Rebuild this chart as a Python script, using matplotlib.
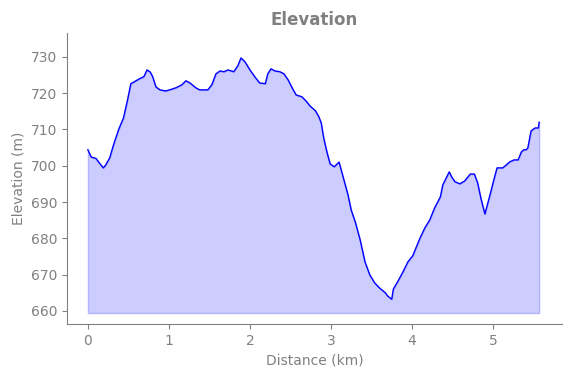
import matplotlib
matplotlib.use("Agg")
import matplotlib.pyplot as plt
import numpy as np

distance_km = [0.00, 0.04, 0.10, 0.14, 0.19, 0.22, 0.27, 0.32, 0.38, 0.44, 0.49, 0.53,
               0.57, 0.64, 0.69, 0.73, 0.77, 0.80, 0.84, 0.89, 0.96, 1.01, 1.09, 1.16,
               1.21, 1.26, 1.33, 1.38, 1.48, 1.53, 1.58, 1.63, 1.68, 1.73, 1.80, 1.85,
               1.89, 1.94, 2.00, 2.06, 2.12, 2.19, 2.22, 2.26, 2.31, 2.37, 2.42, 2.47,
               2.52, 2.57, 2.64, 2.69, 2.74, 2.81, 2.85, 2.88, 2.91, 2.95, 2.99, 3.04,
               3.10, 3.16, 3.21, 3.25, 3.30, 3.36, 3.42, 3.48, 3.54, 3.60, 3.67, 3.70,
               3.75, 3.77, 3.83, 3.89, 3.95, 4.01, 4.10, 4.16, 4.22, 4.28, 4.35, 4.38,
               4.46, 4.49, 4.53, 4.59, 4.65, 4.72, 4.77, 4.81, 4.85, 4.90, 4.96, 5.01,
               5.05, 5.09, 5.12, 5.21, 5.26, 5.31, 5.35, 5.38, 5.41, 5.43, 5.47, 5.52,
               5.56, 5.57]
elevation_m = [704.4, 702.4, 702.0, 700.8, 699.4, 700.2, 702.2, 706.0, 710.0, 713.2, 718.2, 722.6,
               723.1, 724.0, 724.5, 726.4, 725.8, 724.5, 721.7, 720.9, 720.6, 720.9, 721.5, 722.3,
               723.4, 722.8, 721.5, 720.9, 720.9, 722.3, 725.3, 726.1, 725.9, 726.4, 725.9, 727.5,
               729.7, 728.6, 726.4, 724.5, 722.8, 722.6, 725.3, 726.7, 726.1, 725.9, 725.3, 723.7,
               721.5, 719.5, 719.0, 717.9, 716.5, 715.1, 713.5, 711.8, 707.7, 703.8, 700.5, 699.7,
               701.0, 696.1, 692.0, 687.8, 684.5, 679.6, 673.5, 669.9, 667.7, 666.3, 665.0, 664.1,
               663.2, 666.0, 668.3, 670.8, 673.5, 675.2, 680.1, 682.9, 685.1, 688.4, 691.4, 694.7,
               698.3, 696.9, 695.6, 695.0, 695.8, 697.7, 697.7, 695.3, 691.1, 686.7, 691.7, 696.1,
               699.4, 699.4, 699.4, 701.1, 701.6, 701.6, 703.8, 704.4, 704.4, 704.9, 709.6, 710.4,
               710.4, 712.0]
fill_base_m = 659.4

grey = "#808080"
fig = plt.figure(figsize=(5.71, 3.78), dpi=100)
ax = fig.add_axes([0.117, 0.143, 0.867, 0.770])

ax.fill_between(distance_km, elevation_m, fill_base_m, color="blue", alpha=0.2)
ax.plot(distance_km, elevation_m, color="blue", linewidth=1)

ax.set_xlim(-0.26, 5.85)
ax.set_ylim(656.4, 736.6)
ax.set_xticks([0, 1, 2, 3, 4, 5])
ax.set_yticks([660, 670, 680, 690, 700, 710, 720, 730])

for s in ["top", "right"]:
    ax.spines[s].set_visible(False)
for s in ["left", "bottom"]:
    ax.spines[s].set_color(grey)
ax.tick_params(colors=grey, labelcolor=grey)

ax.set_title("Elevation", color=grey, fontweight="bold", fontsize=12)
ax.set_xlabel("Distance (km)", color=grey)
ax.set_ylabel("Elevation (m)", color=grey)

fig.savefig("out.png", dpi=100)
